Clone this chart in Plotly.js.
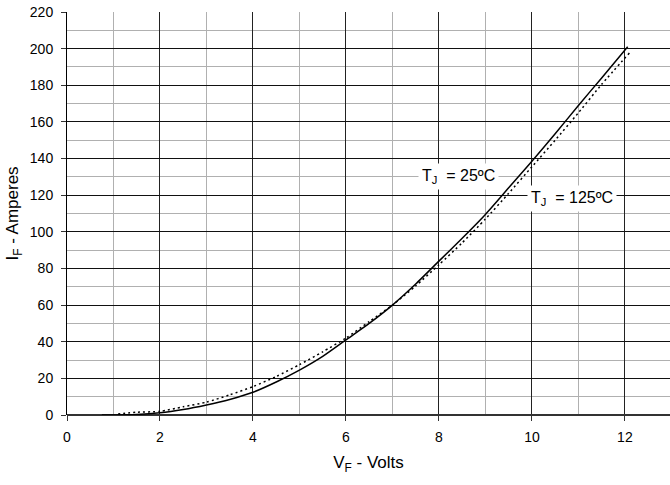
<!DOCTYPE html>
<html><head><meta charset="utf-8">
<script src="https://cdn.plot.ly/plotly-3.0.1.min.js"></script>
<style>html,body{margin:0;padding:0;background:#fff}#chart{width:670px;height:485px}</style>
</head><body><div id="chart"></div>
<script>
// T_J = 25ºC (solid)
var vf25 = [0.75, 1.5, 2, 2.5, 3, 3.5, 4, 4.5, 5, 5.5, 6, 6.5, 7, 7.5, 8, 8.5, 9, 9.5, 10, 10.5, 11, 11.5, 12.06];
var if25 = [0, 0.3, 1.2, 3, 5.5, 8.5, 12.4, 18, 24.5, 32, 41, 50, 60, 71.5, 84, 96.5, 109.5, 124, 138.5, 153.5, 169, 184, 201];
// T_J = 125ºC (dotted)
var vf125 = [1.1, 1.5, 2, 2.5, 3, 3.5, 4, 4.5, 5, 5.5, 6, 6.5, 7, 7.5, 8, 8.5, 9, 9.5, 10, 10.5, 11, 11.5, 12.11];
var if125 = [0.5, 1.5, 2, 4.5, 7, 11, 15.5, 21, 27.5, 34.5, 42, 51, 60, 70.5, 82, 94, 107, 121, 135.5, 150, 165, 180.5, 198];
var labels = ["T<sub>J</sub>  = 25ºC", "T<sub>J</sub>  = 125ºC"];
var labelPos = [[8.41, 130], [10.86, 118.4]];

var traces = [
  {x: vf25, y: if25, mode: 'lines', line: {color: '#000', width: 1.5, shape: 'spline', smoothing: 0.6}, hoverinfo: 'skip'},
  {x: vf125, y: if125, mode: 'lines', line: {color: '#000', width: 1.5, dash: '2px,3px', shape: 'spline', smoothing: 0.6}, hoverinfo: 'skip'}
];
var fam = 'Liberation Sans, Arial, sans-serif';
var font = {family: fam, size: 14, color: '#000'};
var layout = {
  width: 670, height: 485,
  margin: {l: 67, r: 0, t: 12, b: 70},
  paper_bgcolor: '#fff', plot_bgcolor: '#fff',
  showlegend: false,
  font: font,
  xaxis: {
    range: [0, 12.97], dtick: 2, tick0: 0,
    showgrid: true, gridcolor: '#222', gridwidth: 1,
    minor: {dtick: 1, showgrid: true, gridcolor: '#b0b0b0', gridwidth: 1},
    ticks: 'outside', ticklen: 5, tickcolor: '#333', ticklabelstandoff: 4,
    zeroline: false, showline: false,
    title: {text: 'V<sub>F</sub> - Volts', font: {family: fam, size: 17, color: '#000'}, standoff: 12},
    tickfont: font
  },
  yaxis: {
    range: [0, 220], dtick: 20, tick0: 0,
    showgrid: true, gridcolor: '#111', gridwidth: 1,
    minor: {dtick: 10, showgrid: true, gridcolor: '#b0b0b0', gridwidth: 1},
    ticks: 'outside', ticklen: 5, tickcolor: '#333', ticklabelstandoff: 5,
    zeroline: true, zerolinecolor: '#333', zerolinewidth: 2,
    showline: true, linecolor: '#000', linewidth: 1,
    title: {text: 'I<sub>F</sub> - Amperes', font: {family: fam, size: 17, color: '#000'}, standoff: 6},
    tickfont: font
  },
  annotations: labels.map(function (t, i) {
    return {x: labelPos[i][0], y: labelPos[i][1], xref: 'x', yref: 'y', text: t, showarrow: false,
      bgcolor: '#fff', borderpad: 3, font: {family: fam, size: 16, color: '#000'}};
  })
};
Plotly.newPlot('chart', traces, layout, {displayModeBar: false, staticPlot: true});
</script></body></html>
